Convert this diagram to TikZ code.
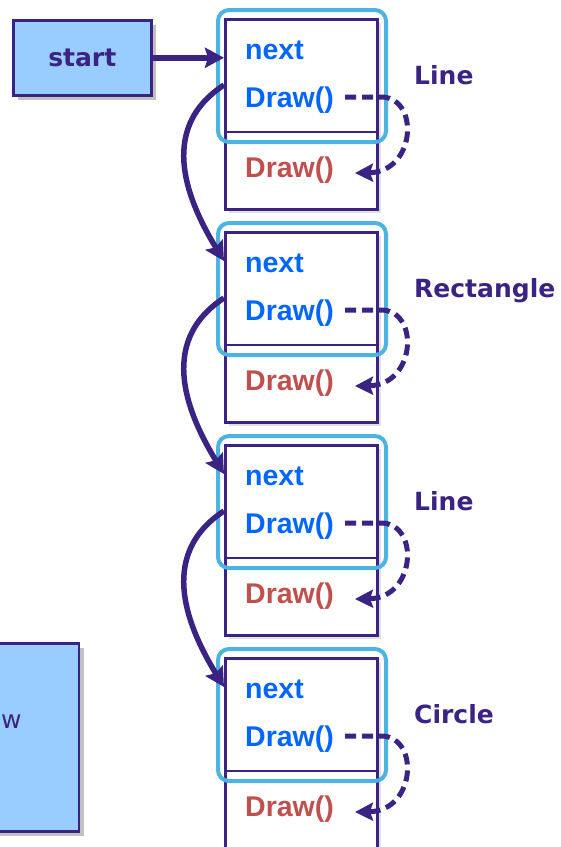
\documentclass[tikz,border=0pt]{standalone}
\usepackage{fontspec}
\setmainfont{Liberation Sans}
\newfontfamily\labfont{DejaVu Sans}
\usetikzlibrary{arrows.meta,shadows}
\definecolor{ink}{HTML}{3B2383}
\definecolor{fieldblue}{HTML}{0066FF}
\definecolor{methodred}{HTML}{C0504D}
\definecolor{vframe}{HTML}{4DB3E0}
\definecolor{boxfill}{HTML}{99CCFF}
\begin{document}
\begin{tikzpicture}[x=1pt,y=-1pt,
  box/.style={draw=ink, line width=2.5pt, fill=boxfill, inner sep=0pt,
    drop shadow={shadow xshift=5pt, shadow yshift=-5pt, opacity=0.35, fill=black!70}},
  objbox/.style={draw=ink, line width=2.5pt, fill=white, inner sep=0pt,
    minimum width=152pt, minimum height=190pt, anchor=north west,
    drop shadow={shadow xshift=4pt, shadow yshift=-4pt, opacity=0.2, fill=black!60}},
  vtab/.style={draw=vframe, line width=4pt, rounded corners=11pt, inner sep=0pt,
    minimum width=168pt, minimum height=132pt, anchor=north west},
  field/.style={inner sep=0pt, anchor=base west, text=fieldblue,
    font=\fontsize{28.5}{32}\selectfont\bfseries},
  method/.style={inner sep=0pt, anchor=base west, text=methodred,
    font=\fontsize{28.5}{32}\selectfont\bfseries},
  lab/.style={inner sep=0pt, anchor=base west, text=ink,
    font=\labfont\fontsize{25}{30}\selectfont\bfseries},
  conn/.style={draw=ink, line width=5.5pt, -{Stealth[length=19pt, width=20pt, inset=3pt]}},
  dasharrow/.style={draw=ink, line width=5pt, dash pattern=on 11pt off 6pt,
    -{Stealth[length=18pt, width=18pt, inset=3pt]}}
]
\useasboundingbox (0,0) rectangle (561,847);

% the start pointer
\node[box, minimum width=138pt, minimum height=75pt, anchor=north west] (start) at (12,19) {};
\node[lab, anchor=center] (starttxt) at (start.center) {start};

% partly hidden box on the left
\node[box, minimum width=100pt, minimum height=188pt, anchor=north east] (drawbox) at (80,642) {};
\node[inner sep=0pt, anchor=base west, text=ink, font=\labfont\fontsize{25}{30}\selectfont] (drawtxt) at (1,728) {w};

% the four objects of the list
\foreach \i/\lab in {0/Line,1/Rectangle,2/Line,3/Circle}{
  \pgfmathtruncatemacro{\off}{213*\i}
  \node[objbox] (obj\i) at (224,18+\off) {};
  \coordinate (d\i) at (224,132+\off);
  \draw[ink, line width=2.5pt] (d\i) -- (obj\i.east |- d\i);
  \node[vtab] (vt\i) at (216,8+\off) {};
  \node[field] (next\i) at (245,59+\off) {next};
  \node[field] (blue\i) at (245,107+\off) {Draw()};
  \node[method] (red\i) at (245,177+\off) {Draw()};
  \node[lab] (lab\i) at (414,84+\off) {\lab};
  \coordinate (ds\i) at (345,97+\off);
  \coordinate (dk\i) at (383,97+\off);
  \coordinate (de\i) at (355,173+\off);
  \draw[dasharrow] (ds\i) -- (dk\i) .. controls (420,100+\off) and (415,172+\off) .. (de\i);
  \coordinate (out\i) at (224,85+\off);
  \coordinate (in\i) at (224,261+\off);
}

\draw[conn] (start.east) -- (obj0.west |- start.east);
\foreach \i in {0,1,2}{
  \pgfmathtruncatemacro{\off}{213*\i}
  \draw[conn] (out\i) .. controls (155,130+\off) and (190,205+\off) .. (in\i);
}
\end{tikzpicture}
\end{document}
